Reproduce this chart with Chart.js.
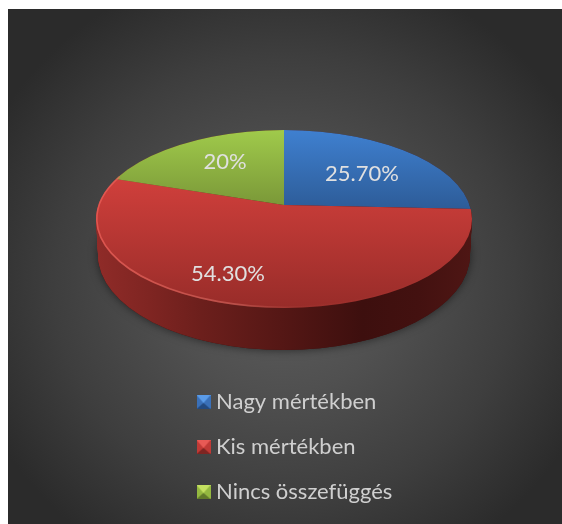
<!DOCTYPE html>
<html>
<head>
<meta charset="utf-8">
<style>
  html, body { margin: 0; background: #fff; overflow: hidden; }
  #bg {
    position: absolute; left: 8px; top: 9px; width: 554px; height: 515px;
    background: radial-gradient(ellipse 330px 320px at 276px 270px, #5e5e5e 0%, #505050 35%, #3e3e3e 70%, #2b2b2b 100%);
  }
  canvas { position: absolute; left: 0; top: 0; }
</style>
</head>
<body>
<div id="bg"></div>
<canvas id="myChart" width="562" height="524"></canvas>
<script src="https://cdn.jsdelivr.net/npm/chart.js@4"></script>
<script>
/* global Chart*/

const categories = ['Nagy mértékben', 'Kis mértékben', 'Nincs összefüggés'];
const shares = [25.7, 54.3, 20];
const valueLabels = ['25.70%', '54.30%', '20%'];

// face colours, top to bottom of each slice
const faceColors = [['#3f80d0', '#2d5c98'], ['#cf3f3b', '#982c29'], ['#a0ca4b', '#7a9838']];
// light, mid, dark for legend markers
const markerColors = [['#5a9be8', '#3a70b8', '#234a80'], ['#e85a55', '#c03a36', '#7e2522'], ['#c4e060', '#94b840', '#617a2a']];
const labelSpots = [[362, 174], [228, 274], [225, 162]];

// the squashed disc on the page
const disc = { x: 284, y: 219, rx: 188, ry: 89, apexLift: 14, depth: 36, flare: 6, taper: 2 };
const RADIUS = 260;

function makeMarker(colors) {
  const c = document.createElement('canvas');
  c.width = 14;
  c.height = 14;
  const g = c.getContext('2d');
  const tri = (color, pts) => {
    g.fillStyle = color;
    g.beginPath();
    g.moveTo(pts[0], pts[1]);
    g.lineTo(pts[2], pts[3]);
    g.lineTo(7, 8);
    g.closePath();
    g.fill();
  };
  g.fillStyle = colors[1];
  g.fillRect(0, 0, 14, 14);
  tri(colors[1], [0, 0, 0, 14]);
  tri(colors[1], [14, 0, 14, 14]);
  tri(colors[2], [0, 14, 14, 14]);
  tri(colors[0], [0, 0, 14, 0]);
  return c;
}

// move ctx so a pie centred on arc lands on the disc, clipped to its ellipse
function enterDisc(ctx, arc, t) {
  const y = disc.y + disc.depth * t;
  const rx = disc.rx - disc.taper * t;
  const ry = disc.ry + disc.flare * t;
  ctx.beginPath();
  ctx.ellipse(disc.x, y, rx, ry, 0, 0, Math.PI * 2);
  ctx.clip();
  ctx.translate(disc.x, y - disc.apexLift);
  ctx.scale(rx / disc.rx, ry / disc.rx);
  ctx.translate(-arc.x, -arc.y);
}

function wallGradient(ctx, arc) {
  const left = arc.x - disc.rx;
  const g = ctx.createLinearGradient(left, 0, left + disc.rx * 2, 0);
  g.addColorStop(0, '#8f2b28');
  g.addColorStop(0.14, '#7f2522');
  g.addColorStop(0.28, '#6c1f1c');
  g.addColorStop(0.49, '#551715');
  g.addColorStop(0.71, '#3d0f0e');
  g.addColorStop(0.86, '#431110');
  g.addColorStop(1, '#4e1614');
  return g;
}

const pie3d = {
  id: 'pie3d',
  beforeDatasetsDraw(chart) {
    const ctx = chart.ctx;
    const arcs = chart.getDatasetMeta(0).data;
    const wall = wallGradient(ctx, arcs[0]);

    // soft shadow under the disc
    ctx.save();
    ctx.shadowColor = 'rgba(0,0,0,0.55)';
    ctx.shadowBlur = 10;
    ctx.fillStyle = '#3d0f0e';
    ctx.beginPath();
    ctx.ellipse(disc.x, disc.y + disc.depth, disc.rx - disc.taper, disc.ry + disc.flare, 0, 0, Math.PI * 2);
    ctx.fill();
    ctx.restore();

    // back slices first, the big red one last so it holds the front wall
    [2, 0, 1].forEach((k) => {
      const arc = arcs[k];
      const saved = arc.options;
      const opts = Object.create(saved);
      opts.backgroundColor = wall;
      arc.options = opts;
      for (let i = disc.depth; i >= 0; i--) {
        ctx.save();
        enterDisc(ctx, arc, i / disc.depth);
        arc.draw(ctx);
        ctx.restore();
      }
      arc.options = saved;
    });
  },
  beforeDatasetDraw(chart) {
    const ctx = chart.ctx;
    ctx.save();
    enterDisc(ctx, chart.getDatasetMeta(0).data[0], 0);
  },
  afterDatasetDraw(chart) {
    chart.ctx.restore();
  },
  afterDatasetsDraw(chart) {
    // bevel along the near edge of the top face
    const ctx = chart.ctx;
    const g = ctx.createLinearGradient(disc.x - disc.rx, 0, disc.x + disc.rx, 0);
    g.addColorStop(0, 'rgba(235,95,88,0.75)');
    g.addColorStop(0.38, 'rgba(225,120,110,0.45)');
    g.addColorStop(0.55, 'rgba(200,90,80,0.08)');
    g.addColorStop(1, 'rgba(150,50,45,0.05)');
    ctx.save();
    ctx.strokeStyle = g;
    ctx.lineWidth = 1.6;
    ctx.beginPath();
    ctx.ellipse(disc.x, disc.y, disc.rx - 0.8, disc.ry - 0.8, 0, -0.02, Math.PI + 0.5);
    ctx.stroke();
    ctx.restore();
  },
  afterDraw(chart) {
    const ctx = chart.ctx;
    ctx.save();
    ctx.font = '22px Lato';
    ctx.fillStyle = '#e0e0e0';
    ctx.textAlign = 'center';
    ctx.textBaseline = 'middle';
    valueLabels.forEach((text, i) => ctx.fillText(text, labelSpots[i][0], labelSpots[i][1]));
    ctx.restore();
  }
};

const markers = markerColors.map(makeMarker);

const ctx = document.getElementById('myChart').getContext('2d');

const chart = new Chart(ctx, {
  type: 'pie',
  data: {
    labels: categories,
    datasets: [{
      data: shares,
      borderWidth: 0,
      clip: false,
      // vertical shine per slice, in the pie's unsquashed space
      backgroundColor(c) {
        const area = c.chart.chartArea;
        if (!area) return faceColors[c.dataIndex][0];
        const midY = (area.top + area.bottom) / 2;
        const spans = [[-75, 4], [-25, 103], [-75, 0]];
        const s = disc.rx / disc.ry;
        const [a, b] = spans[c.dataIndex];
        const g = c.chart.ctx.createLinearGradient(0, midY + a * s, 0, midY + b * s);
        g.addColorStop(0, faceColors[c.dataIndex][0]);
        g.addColorStop(1, faceColors[c.dataIndex][1]);
        return g;
      },
    }]
  },
  options: {
    responsive: false,
    animation: false,
    events: [],
    radius: RADIUS,
    layout: { padding: { left: 179, top: 300, right: 0, bottom: -2 } },
    plugins: {
      tooltip: { enabled: false },
      legend: {
        position: 'left',
        align: 'end',
        maxWidth: 300,
        labels: {
          usePointStyle: true,
          pointStyleWidth: 3,
          padding: 23,
          color: '#cfcfcf',
          font: { family: 'Lato', size: 22 },
          generateLabels: () => categories.map((text, i) => ({
            text,
            fontColor: '#cfcfcf',
            pointStyle: markers[i],
            hidden: false,
            index: i,
          })),
        },
      },
    },
  },
  plugins: [pie3d],
});
</script>
</body>
</html>
